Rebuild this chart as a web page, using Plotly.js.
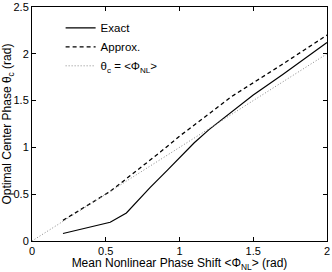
<!DOCTYPE html>
<html><head><meta charset="utf-8">
<script src="https://cdn.plot.ly/plotly-3.0.1.min.js"></script>
<style>html,body{margin:0;padding:0;background:#fff;}#c{width:332px;height:272px;}</style>
</head><body><div id="c"></div>
<script>
const exactX = [0.21, 0.53, 0.64, 0.8, 0.92, 1.0, 1.1, 1.2, 1.35, 1.5, 1.7, 1.85, 2.0];
const exactY = [0.08, 0.2, 0.3, 0.57, 0.76, 0.89, 1.05, 1.19, 1.38, 1.56, 1.78, 1.95, 2.12];
const approxX = [0.21, 0.53, 0.87, 1.0, 1.21, 1.35, 1.69, 2.0];
const approxY = [0.22, 0.53, 0.95, 1.12, 1.37, 1.54, 1.88, 2.2];
const meanX = [0, 2];
const meanY = [0, 2];
const xTicks = [0, 0.5, 1, 1.5, 2];
const yTicks = [0, 0.5, 1, 1.5, 2, 2.5];
const names = ['Exact', 'Approx.', 'θ<sub>c</sub> = &lt;Φ<sub>NL</sub>&gt;'];

const F = 'Liberation Sans, Arial, sans-serif';
const traces = [
  {x: exactX, y: exactY, name: names[0], mode: 'lines', line: {color: '#000', width: 1.2}},
  {x: approxX, y: approxY, name: names[1], mode: 'lines', line: {color: '#000', width: 1.3, dash: '4px,3px'}},
  {x: meanX, y: meanY, name: names[2], mode: 'lines', line: {color: '#888', width: 1, dash: '1px,2px'}}
];
const ax = {
  showgrid: false, zeroline: false, showline: true, mirror: 'ticks', linecolor: '#000', linewidth: 1,
  ticks: 'inside', ticklen: 4, tickcolor: '#000', tickfont: {family: F, size: 11, color: '#000'}
};
const layout = {
  width: 332, height: 272,
  margin: {l: 32, r: 5, t: 7, b: 31},
  paper_bgcolor: '#fff', plot_bgcolor: '#fff',
  font: {family: F, color: '#000'},
  showlegend: true,
  legend: {x: 0.097, y: 0.973, xanchor: 'left', yanchor: 'top', bgcolor: 'rgba(0,0,0,0)',
           font: {family: F, size: 11.5, color: '#000'}, tracegroupgap: 0, itemwidth: 30},
  xaxis: Object.assign({}, ax, {range: [0, 2], tickvals: xTicks, ticktext: xTicks.map(String),
    title: {text: 'Mean Nonlinear Phase Shift &lt;Φ<sub>NL</sub>&gt; (rad)', font: {family: F, size: 12, color: '#000'}, standoff: 2}}),
  yaxis: Object.assign({}, ax, {range: [0, 2.5], tickvals: yTicks, ticktext: yTicks.map(String),
    title: {text: 'Optimal Center Phase θ<sub>c</sub> (rad)', font: {family: F, size: 12, color: '#000'}, standoff: 2}})
};
Plotly.newPlot('c', traces, layout, {staticPlot: true, displayModeBar: false});
</script></body></html>
